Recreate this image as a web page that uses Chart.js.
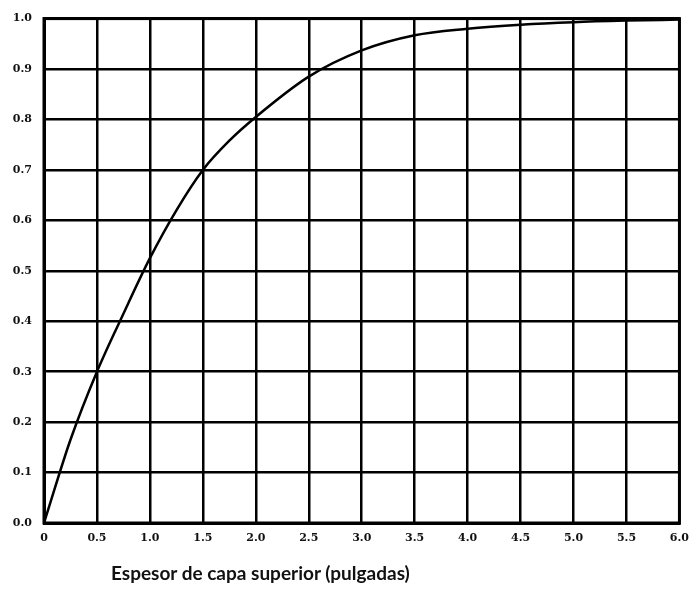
<!DOCTYPE html>
<html>
<head>
<meta charset="utf-8">
<script src="https://cdn.jsdelivr.net/npm/chart.js@4/dist/chart.umd.min.js"></script>
<style>
  html, body { margin: 0; padding: 0; background: #fff; }
  #wrap { position: relative; width: 698px; height: 589px; }
  #c { position: absolute; left: 0; top: 0; }
  #xtitle { position: absolute; left: 111px; top: 563px; font-family: Lato, "Open Sans", sans-serif; font-weight: 700; font-size: 19px; color: #111; white-space: nowrap; line-height: 1; }
</style>
</head>
<body>
<div id="wrap">
  <canvas id="c" width="698" height="589"></canvas>
  <div id="xtitle">Espesor de capa superior (pulgadas)</div>
</div>
<script>
// Data
const thickness = [0, 0.25, 0.5, 0.75, 1.0, 1.25, 1.5, 1.75, 2.0, 2.5, 3.0, 3.5, 4.0, 4.5, 5.0, 5.5, 6.0];
const ratio     = [0, 0.165, 0.30, 0.415, 0.525, 0.620, 0.700, 0.758, 0.805, 0.885, 0.937, 0.967, 0.980, 0.988, 0.993, 0.996, 0.998];
const xTicks = [0, 0.5, 1.0, 1.5, 2.0, 2.5, 3.0, 3.5, 4.0, 4.5, 5.0, 5.5, 6.0];
const xTickLabels = ['0', '0.5', '1.0', '1.5', '2.0', '2.5', '3.0', '3.5', '4.0', '4.5', '5.0', '5.5', '6.0'];
const yTickLabels = ['0.0', '0.1', '0.2', '0.3', '0.4', '0.5', '0.6', '0.7', '0.8', '0.9', '1.0'];

const points = thickness.map((x, i) => ({ x: x, y: ratio[i] }));
const tickFont = { family: '"DejaVu Serif", serif', weight: 'bold', size: 11 };

new Chart(document.getElementById('c'), {
  type: 'scatter',
  data: {
    datasets: [{
      data: points,
      showLine: true,
      borderColor: '#000',
      borderWidth: 2.5,
      pointRadius: 0,
      cubicInterpolationMode: 'monotone',
      fill: false
    }]
  },
  options: {
    responsive: false,
    animation: false,
    devicePixelRatio: 1,
    layout: { padding: { top: 17, right: 12, left: 0, bottom: 0 } },
    plugins: { legend: { display: false }, tooltip: { enabled: false } },
    scales: {
      x: {
        type: 'linear',
        min: 0, max: 6,
        afterBuildTicks: (s) => { s.ticks = xTicks.map(v => ({ value: v })); },
        afterFit: (s) => { s.height = 66; },
        grid: { color: '#000', lineWidth: 2.5, drawTicks: false },
        border: { color: '#000', width: 3 },
        ticks: {
          color: '#111', font: tickFont, padding: 9, maxRotation: 0, autoSkip: false,
          callback: (v, i) => xTickLabels[i]
        }
      },
      y: {
        type: 'linear',
        min: 0, max: 1,
        afterBuildTicks: (s) => { s.ticks = yTickLabels.map((t, i) => ({ value: i / 10 })); },
        afterFit: (s) => { s.width = 44; },
        grid: { color: '#000', lineWidth: 2.5, drawTicks: false },
        border: { color: '#000', width: 3 },
        ticks: {
          color: '#111', font: tickFont, padding: 12, autoSkip: false,
          callback: (v, i) => yTickLabels[i]
        }
      }
    }
  },
  plugins: [{
    id: 'frame',
    afterDraw(chart) {
      const a = chart.chartArea, ctx = chart.ctx;
      ctx.save();
      ctx.strokeStyle = '#000';
      ctx.lineWidth = 3;
      ctx.strokeRect(a.left, a.top, a.right - a.left, a.bottom - a.top);
      ctx.restore();
    }
  }]
});
</script>
</body>
</html>
